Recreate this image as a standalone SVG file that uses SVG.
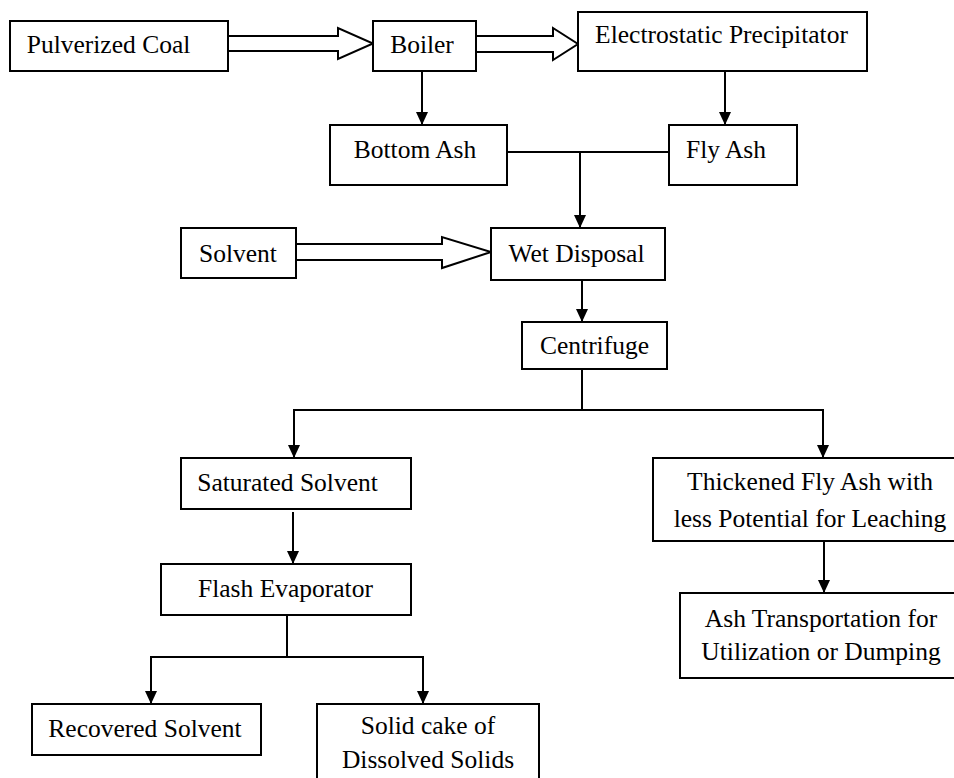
<svg xmlns="http://www.w3.org/2000/svg" width="954" height="778" viewBox="0 0 954 778">
<style>
.box{fill:#fff;stroke:#000;stroke-width:2}
.blk{fill:#fff;stroke:#000;stroke-width:2;stroke-linejoin:miter}
.ln{fill:none;stroke:#000;stroke-width:2}
.ar{fill:none;stroke:#000;stroke-width:2;marker-end:url(#ah)}
text{font-family:'Liberation Serif','DejaVu Serif',serif;font-size:25.5px;fill:#000;text-anchor:middle}
</style>
<defs>
<marker id="ah" markerUnits="userSpaceOnUse" markerWidth="14" markerHeight="14" viewBox="0 0 14 14" refX="13" refY="7" orient="auto">
<path d="M0,1 L13,7 L0,13 Z" fill="#000"/>
</marker>
</defs>
<rect width="954" height="778" fill="#fff"/>
<g id="connectors">
<polygon class="blk" points="228,36 338,36 338,28 373,43.5 338,59 338,51 228,51"/>
<polygon class="blk" points="476,36 553,36 553,28 578,44 553,60 553,52 476,52"/>
<polygon class="blk" points="296,244 442,244 442,237 491,252 442,268 442,260 296,260"/>
<line class="ar" x1="422" y1="72" x2="422" y2="125"/>
<line class="ar" x1="725" y1="72" x2="725" y2="125"/>
<line class="ln" x1="507" y1="152" x2="669" y2="152"/>
<line class="ar" x1="580" y1="152" x2="580" y2="228"/>
<line class="ar" x1="582" y1="281" x2="582" y2="322"/>
<line class="ln" x1="582" y1="369" x2="582" y2="410"/>
<line class="ln" x1="294" y1="410" x2="823" y2="410"/>
<line class="ar" x1="294" y1="409" x2="294" y2="458"/>
<line class="ar" x1="823" y1="409" x2="823" y2="458"/>
<line class="ar" x1="293" y1="512" x2="293" y2="564"/>
<line class="ln" x1="287" y1="615" x2="287" y2="657"/>
<line class="ln" x1="151" y1="657" x2="423" y2="657"/>
<line class="ar" x1="151" y1="656" x2="151" y2="704"/>
<line class="ar" x1="423" y1="656" x2="423" y2="704"/>
<line class="ar" x1="824" y1="541" x2="824" y2="593"/>
</g>
<g font-family="Liberation Serif, DejaVu Serif, serif">
<g id="pulverized-coal"><rect class="box" x="10" y="21" width="218" height="50"/><text x="108.5" y="53">Pulverized Coal</text></g>
<g id="boiler"><rect class="box" x="373" y="21" width="103" height="50"/><text x="422" y="53">Boiler</text></g>
<g id="electrostatic-precipitator"><rect class="box" x="578" y="12" width="289" height="59"/><text x="721.5" y="43">Electrostatic Precipitator</text></g>
<g id="bottom-ash"><rect class="box" x="330" y="125" width="177" height="60"/><text x="415" y="158">Bottom Ash</text></g>
<g id="fly-ash"><rect class="box" x="669" y="125" width="128" height="60"/><text x="726" y="158">Fly Ash</text></g>
<g id="solvent"><rect class="box" x="181" y="228" width="115" height="50"/><text x="238" y="262">Solvent</text></g>
<g id="wet-disposal"><rect class="box" x="491" y="228" width="174" height="52"/><text x="576.5" y="262">Wet Disposal</text></g>
<g id="centrifuge"><rect class="box" x="522" y="322" width="145" height="47"/><text x="594.5" y="354">Centrifuge</text></g>
<g id="saturated-solvent"><rect class="box" x="181" y="458" width="230" height="51"/><text x="287.5" y="491">Saturated Solvent</text></g>
<g id="flash-evaporator"><rect class="box" x="161" y="564" width="250" height="51"/><text x="285.5" y="597">Flash Evaporator</text></g>
<g id="recovered-solvent"><rect class="box" x="32" y="704" width="229" height="51"/><text x="145" y="737">Recovered Solvent</text></g>
<g id="solid-cake"><rect class="box" x="317" y="704" width="222" height="90"/><text x="428" y="734">Solid cake of</text><text x="428" y="768">Dissolved Solids</text></g>
<g id="thickened-fly-ash"><rect class="box" x="653" y="458" width="310" height="83"/><text x="810" y="490">Thickened Fly Ash with</text><text x="810" y="527">less Potential for Leaching</text></g>
<g id="ash-transportation"><rect class="box" x="680" y="593" width="283" height="85"/><text x="821" y="627">Ash Transportation for</text><text x="821" y="660">Utilization or Dumping</text></g>
</g>
</svg>
